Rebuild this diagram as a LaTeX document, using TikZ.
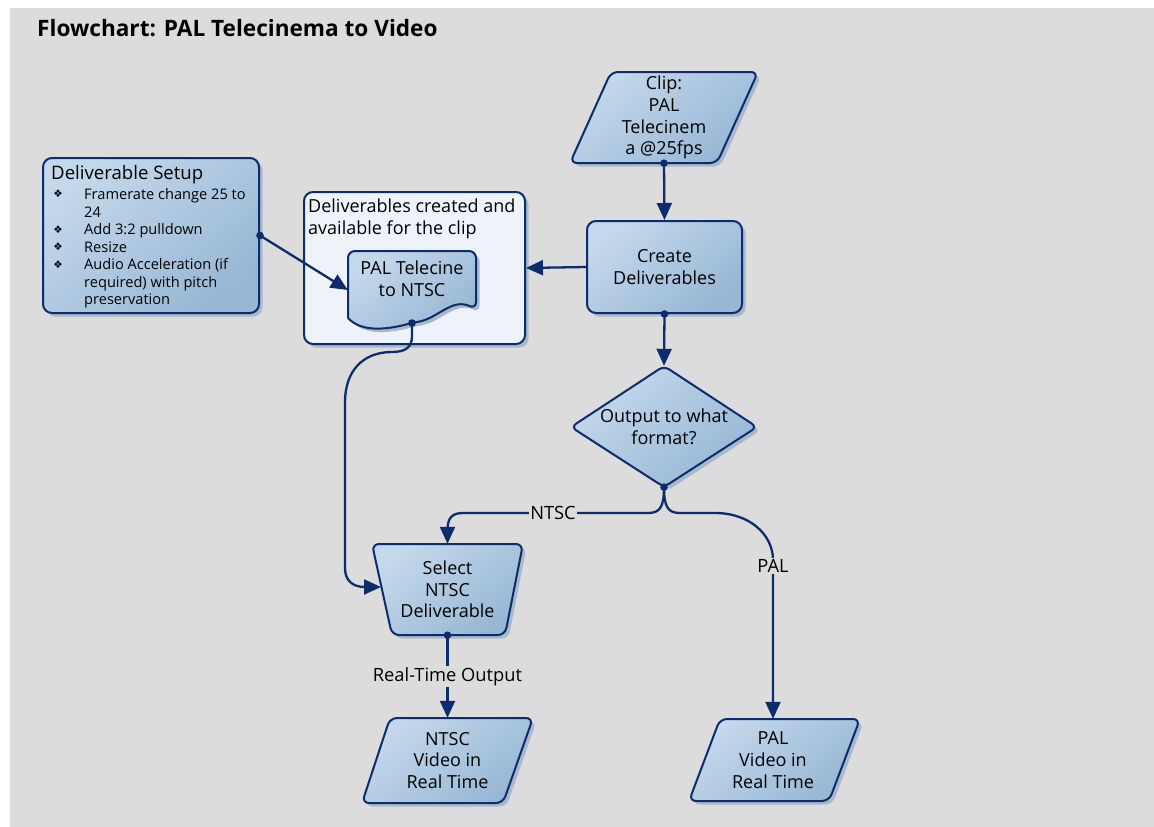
\documentclass[tikz,border=0pt]{standalone}
\usepackage{fontspec}
\setmainfont{Open Sans}
\newfontfamily\symfont{DejaVu Sans}
\usetikzlibrary{arrows.meta,shadows,calc}
\definecolor{panel}{HTML}{DCDCDC}
\definecolor{navy}{HTML}{0D2C6C}
\definecolor{fillA}{HTML}{C4D8EB}
\definecolor{fillB}{HTML}{97B7D5}
\definecolor{contfill}{HTML}{EEF3FA}
\definecolor{shadowc}{HTML}{A7B9CD}
\begin{document}
\begin{tikzpicture}[x=1pt,y=-1pt,
  shp/.style={draw=navy,line width=2pt,rounded corners=7pt,top color=fillA,bottom color=fillB,shading angle=40,
    drop shadow={shadow xshift=3.5pt,shadow yshift=-3.5pt,fill=shadowc,opacity=1}},
  txt/.style={font=\fontsize{18}{21.7}\selectfont,align=center,text=black,inner sep=0pt},
  lbl/.style={font=\fontsize{18.3}{20}\selectfont,fill=panel,inner sep=1.5pt,text=black},
  conn/.style={draw=navy,line width=2.3pt,-{Triangle[length=17pt,width=15pt]}},
  dotc/.style={fill=navy},
  bul/.style={font=\symfont\fontsize{10.5}{12}\selectfont,inner sep=0pt,text=black}]
\useasboundingbox (0,0) rectangle (1154,827);
\fill[white] (0,0) rectangle (1154,827);
\fill[panel] (10,8) rectangle (1154,827);
\node[anchor=base west,inner sep=0pt,font=\bfseries\fontsize{22.6}{26}\selectfont] (title) at (37,36) {Flowchart: PAL Telecinema to Video};

% Clip parallelogram
\path[shp] (611,72) -- (758,72) -- (717,163) -- (570,163) -- cycle;
\node[txt,minimum width=150pt,minimum height=91pt] (clip) at (664,117.5) {Clip:\\PAL\\Telecinem\\a @25fps};

% Create Deliverables
\node[shp,rounded corners=9pt,txt,minimum width=155pt,minimum height=92pt] (create) at (664.5,267) {Create\\Deliverables};

% Decision diamond
\path[shp,rounded corners=6pt] (664,366) -- (757,427) -- (664,487) -- (571,427) -- cycle;
\node[txt,minimum width=186pt,minimum height=121pt] (fmt) at (664,426.5) {Output to what\\format?};

% Deliverable Setup
\node[shp,rounded corners=9pt,minimum width=216pt,minimum height=155pt] (setup) at (151,235.5) {};
\node[anchor=west,inner sep=0pt,font=\fontsize{18.6}{20}\selectfont] (setupT) at (51,174.5) {Deliverable Setup};
\node[anchor=north west,align=left,inner sep=0pt,font=\fontsize{14.6}{17.5}\selectfont] (setupL) at (84,188.5) {Framerate change 25 to\\24\\Add 3:2 pulldown\\Resize\\Audio Acceleration (if\\required) with pitch\\preservation};
\foreach \y/\n in {194/b1,229.5/b2,247/b3,264.5/b4} \node[bul] (\n) at (58,\y) {❖};

% Container
\node[draw=navy,line width=2pt,fill=contfill,rounded corners=9pt,minimum width=221pt,minimum height=152pt,
  drop shadow={shadow xshift=3.5pt,shadow yshift=-3.5pt,fill=shadowc,opacity=1}] (cont) at (414.5,268) {};
\node[anchor=north west,align=left,inner sep=0pt,font=\fontsize{18}{22}\selectfont] (contT) at (308,198.5) {Deliverables created and\\available for the clip};

% PAL Telecine document
\path[shp] (348,318) -- (348,251) -- (476,251) -- (476,309)
  .. controls (452,298) and (438,318) .. (412,323)
  .. controls (388,329) and (362,333) .. (348,318);
\node[txt,minimum width=128pt,minimum height=56pt] (palt) at (412,279) {PAL Telecine\\to NTSC};
\coordinate (paltb) at (412,323);

% Select NTSC Deliverable trapezoid
\path[shp] (372,544) -- (523,544) -- (505,635) -- (392,635) -- cycle;
\node[txt,minimum width=150pt,minimum height=91pt] (sel) at (447.5,589.5) {Select\\NTSC\\Deliverable};
\coordinate (selL) at (381,587);

% Output parallelograms
\path[shp] (390,718) -- (533,718) -- (503,803) -- (362,803) -- cycle;
\node[txt,minimum width=140pt,minimum height=85pt] (nv) at (447.5,760.5) {NTSC\\Video in\\Real Time};
\path[shp] (720,719) -- (860,719) -- (829,801) -- (689,801) -- cycle;
\node[txt,minimum width=140pt,minimum height=82pt] (pv) at (773,760) {PAL\\Video in\\Real Time};

% Connectors
\draw[conn] (clip.south) -- (create.north);
\fill[dotc] (clip.south) circle (3.8pt);

\draw[conn] (create.west) -- (cont.east);

\draw[conn] (setup.east) -- ([yshift=-11pt]palt.west);
\fill[dotc] (setup.east) circle (3.8pt);

\draw[conn] (create.south) -- (fmt.north);
\fill[dotc] (create.south) circle (3.8pt);

\draw[conn] (fmt.south) .. controls (664,507) and (660,513) .. (648,513) -- (463,513)
  .. controls (452,513) and (447.5,518) .. (447.5,530) -- (sel.north);
\node[lbl] (lntsc) at (553,513) {NTSC};
\draw[conn] (fmt.south) .. controls (664,507) and (668,513) .. (680,513) -- (715,513)
  .. controls (750,513) and (773,535) .. (773,560) -- (pv.north);
\node[lbl] (lpal) at (773,566) {PAL};
\fill[dotc] (fmt.south) circle (3.8pt);

\draw[conn] (paltb) -- (412,336) .. controls (412,347) and (406,352) .. (392,352)
  .. controls (362,352) and (345,372) .. (345,402) -- (345,568)
  .. controls (345,580) and (352,587) .. (365,587) -- (selL);
\fill[dotc] (paltb) circle (3.8pt);

\draw[conn] (sel.south) -- node[lbl] (lrt) {Real-Time Output} (nv.north);
\fill[dotc] (sel.south) circle (3.8pt);
\end{tikzpicture}
\end{document}
